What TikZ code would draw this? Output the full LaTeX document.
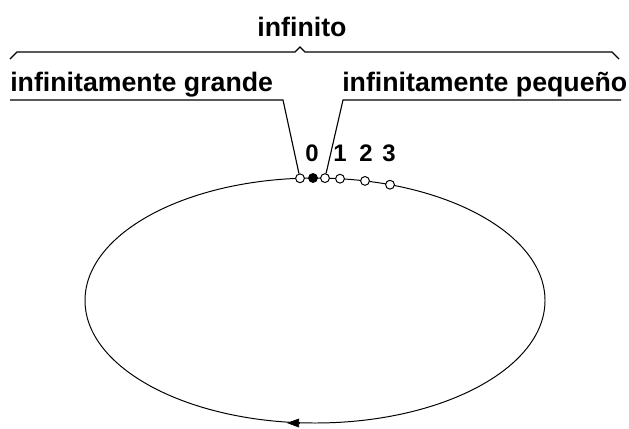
\documentclass[tikz,border=0pt]{standalone}
\usepackage{fontspec}
\setmainfont{Liberation Sans}
\usetikzlibrary{arrows.meta}

\begin{document}
\begin{tikzpicture}[x=0.025cm, y=-0.025cm,
  lbl/.style={font=\fontsize{19}{22}\selectfont\bfseries, inner sep=0pt},
  num/.style={font=\fontsize{17}{19}\selectfont\bfseries, inner sep=0pt, anchor=base},
  ln/.style={line width=0.8pt},
  opendot/.style={circle, draw, line width=0.7pt, fill=white, inner sep=0pt, minimum size=2.2mm},
  fulldot/.style={opendot, fill=black}]
  \useasboundingbox (0,0) rectangle (629,428);
  % the cycle
  \draw[line width=0.7pt] (315,300.5) ellipse (230 and 122.5);
  \draw[-{Triangle[length=3mm,width=2.2mm]}] (300,423) -- (287,423);
  % points on the cycle
  \node[opendot] (big) at (300,178.3) {};
  \node[fulldot] (zero) at (313,178) {};
  \node[opendot] (small) at (325,178.1) {};
  \node[opendot] (one) at (340,178.7) {};
  \node[opendot] (two) at (365,180.9) {};
  \node[opendot] (three) at (390,184.7) {};
  \node[num] (lzero) at (312,161) {0};
  \node[num] (lone) at (340,161) {1};
  \node[num] (ltwo) at (366,161) {2};
  \node[num] (lthree) at (389,161) {3};
  % labels
  \node[lbl, anchor=base] (inf) at (302,36) {infinito};
  \node[lbl, anchor=base west] (grande) at (10,91) {infinitamente grande};
  \node[lbl, anchor=base west] (pequeno) at (342,91) {infinitamente pequeño};
  \draw[ln] (10,59) -- (17,52) -- (295,52) -- (300,47) -- (305,52) -- (612,52) -- (619,59);
  \coordinate (ga) at (10,100);
  \coordinate (gb) at (283,100);
  \coordinate (pa) at (621,100);
  \coordinate (pb) at (343,100);
  \draw[ln] (ga) -- (gb) -- (big);
  \draw[ln] (pa) -- (pb) -- (small);
\end{tikzpicture}
\end{document}
